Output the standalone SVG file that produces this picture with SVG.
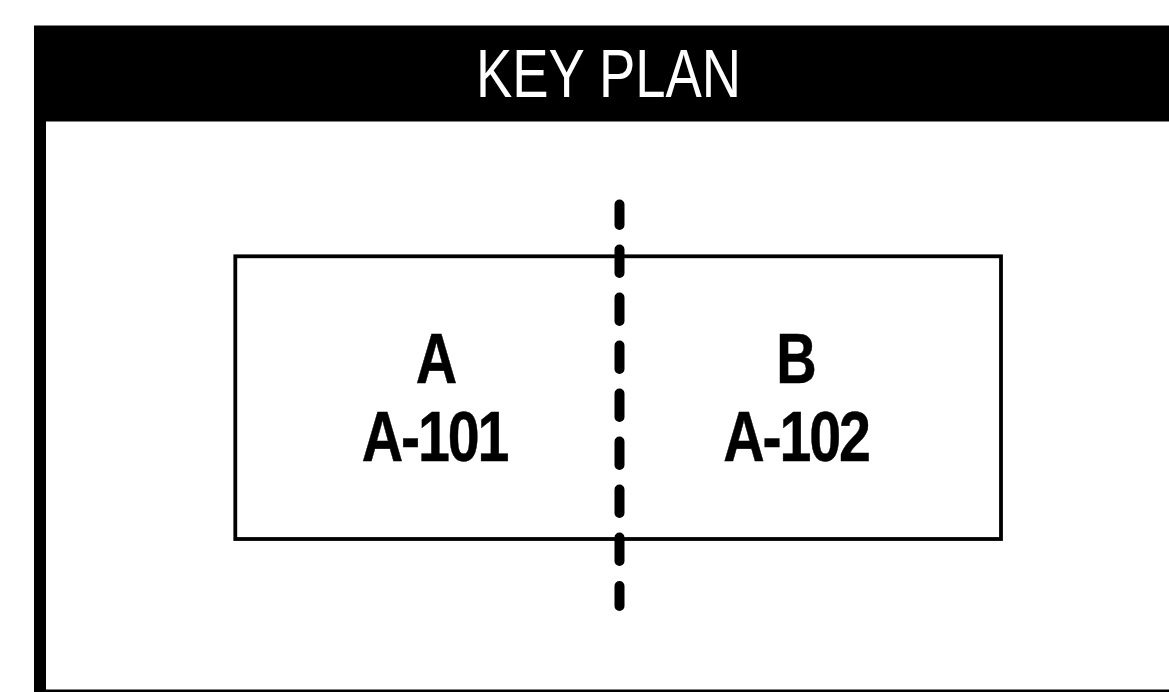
<svg xmlns="http://www.w3.org/2000/svg" width="1169" height="692" viewBox="0 0 1169 692">
<style>
.b{font-family:"Liberation Sans",Arial,sans-serif;font-weight:700;font-size:70px;fill:#000;stroke:#000;stroke-width:.5;text-anchor:middle}
.t{font-family:"Liberation Sans",Arial,sans-serif;font-size:68px;fill:#fff;text-anchor:middle}
.d{fill:none;stroke:#000;stroke-width:10;stroke-linecap:round}
</style>
<rect width="1169" height="692" fill="#fff"/>
<g id="frame">
<path d="M34 25.5H1169V121.5H46V689.5H1169V692H34Z" fill="#000"/>
<text class="t" transform="translate(608.5 96.5) scale(0.8 1)">KEY PLAN</text>
</g>
<g id="plan">
<rect x="235.3" y="256.3" width="765.7" height="282.7" fill="none" stroke="#000" stroke-width="3.8"/>
</g>
<g id="zone-a">
<text class="b" transform="translate(436.5 383) scale(0.82 1)">A</text>
<text class="b" transform="translate(434.5 460.5) scale(0.82 1)" style="letter-spacing:-2.6px">A-101</text>
</g>
<g id="zone-b">
<text class="b" transform="translate(796.5 383) scale(0.8 1)">B</text>
<text class="b" transform="translate(796 460.5) scale(0.82 1)" style="letter-spacing:-2.6px">A-102</text>
</g>
<g id="connectors">
<path class="d" d="M619.5 204.5V225M619.5 249.5V273M619.5 297.5V321M619.5 345.5V369M619.5 393.5V417M619.5 441.5V465M619.5 489.5V513M619.5 537.5V561M619.5 586V606"/>
</g>
</svg>
